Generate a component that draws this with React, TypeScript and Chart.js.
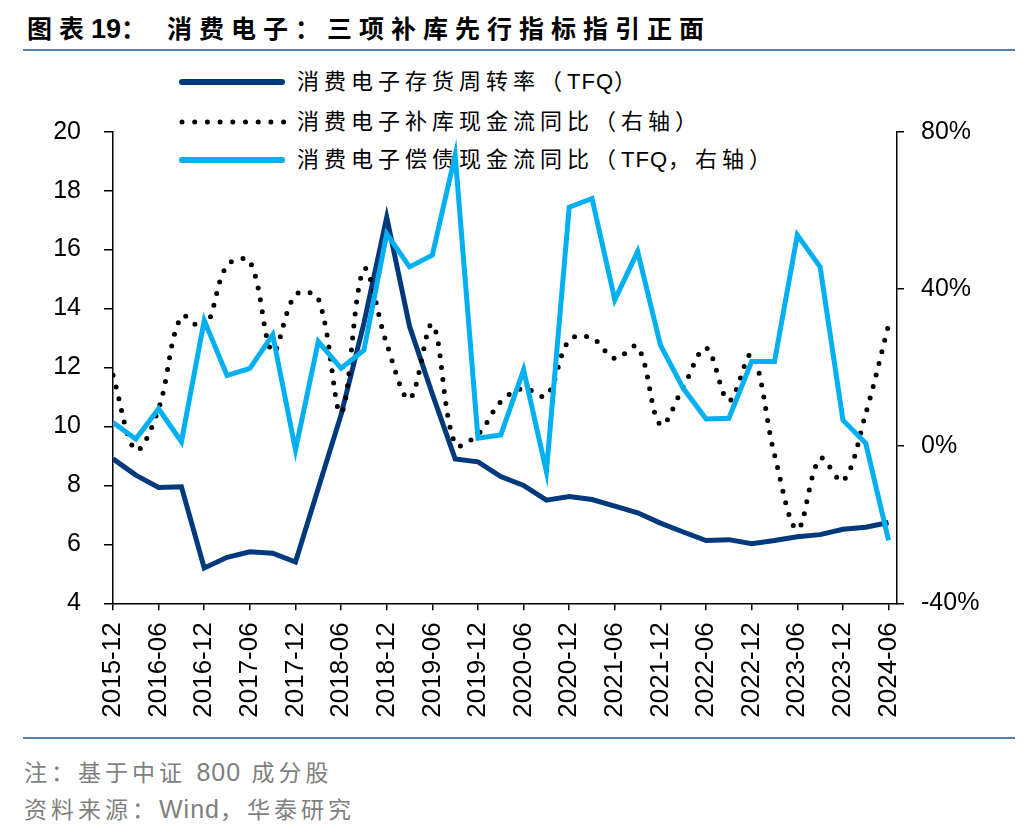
import { useEffect, useRef } from "react";
import { Chart, registerables } from "chart.js";

Chart.register(...registerables);

// Quarter-end dates (category of each point)
const quarters = [
  "2015-12", "2016-03", "2016-06", "2016-09", "2016-12", "2017-03", "2017-06", "2017-09",
  "2017-12", "2018-03", "2018-06", "2018-09", "2018-12", "2019-03", "2019-06", "2019-09",
  "2019-12", "2020-03", "2020-06", "2020-09", "2020-12", "2021-03", "2021-06", "2021-09",
  "2021-12", "2022-03", "2022-06", "2022-09", "2022-12", "2023-03", "2023-06", "2023-09",
  "2023-12", "2024-03", "2024-06",
];

// 消费电子存货周转率（TFQ）— left axis
const turnover = [
  8.9, 8.35, 7.93, 7.95, 5.2, 5.56, 5.75, 5.7,
  5.4, 7.9, 10.4, 13.5, 17.1, 13.4, 11.1, 8.9,
  8.8, 8.3, 8.0, 7.5, 7.62, 7.52, 7.3, 7.07,
  6.72, 6.42, 6.13, 6.16, 6.02, 6.13, 6.26, 6.33,
  6.51, 6.58, 6.74,
];

// 消费电子补库现金流同比（右轴），%
const restock = [
  18, -1, 9.5, 33, 30, 46, 47, 24,
  38.5, 37.5, 8.5, 45, 26, 12, 31, 0.5,
  3, 11.3, 14.7, 12.8, 27, 27.5, 22.3, 25.3,
  5.4, 15, 25, 11.5, 23.3, -2.2, -21.2, -3.1,
  -8.9, 8.3, 30.8,
];

// 消费电子偿债现金流同比（TFQ，右轴），%
const repay = [
  6, 1.8, 9.5, 1.1, 32, 18, 19.8, 28.3,
  -1, 26.6, 19.8, 24.4, 54, 45.6, 48.6, 74,
  2, 2.8, 19.4, -6.5, 60.8, 63, 37.2, 49.5,
  25.7, 14.7, 6.9, 7.1, 21.5, 21.5, 53.7, 45.6,
  6.6, 0.7, -24,
];

const leftTicks = { min: 4, max: 20, step: 2 };
const rightTicks = { min: -40, max: 80, step: 40 };

// legend labels split into [CJK part, Latin part, CJK part]
const legendItems = [
  { parts: ["消费电子存货周转率（", "TFQ", "）"], color: "#003A7D", dotted: false },
  { parts: ["消费电子补库现金流同比（右轴）", "", ""], color: "#000000", dotted: true },
  { parts: ["消费电子偿债现金流同比（", "TFQ", "，右轴）"], color: "#00B0F0", dotted: false },
];

const LATIN = '"Liberation Sans", Arial, sans-serif';
const MIXED = '"Liberation Sans", "Noto Sans CJK SC", sans-serif';

export default function App() {
  const ref = useRef<HTMLCanvasElement>(null);

  useEffect(() => {
    const toXY = (arr: number[]) => arr.map((v, i) => ({ x: i, y: v }));
    const chart = new Chart(ref.current as HTMLCanvasElement, {
      type: "line",
      data: {
        datasets: [
          {
            label: legendItems[2].parts.join(""),
            data: toXY(repay),
            yAxisID: "y1",
            borderColor: "#00B0F0",
            borderWidth: 5,
            pointRadius: 0,
            tension: 0,
            order: 0,
          },
          {
            label: legendItems[1].parts.join(""),
            data: toXY(restock),
            yAxisID: "y1",
            borderColor: "#000000",
            borderWidth: 5,
            borderDash: [0, 12],
            borderCapStyle: "round",
            pointRadius: 0,
            tension: 0.35,
            order: 1,
          },
          {
            label: legendItems[0].parts.join(""),
            data: toXY(turnover),
            yAxisID: "y",
            borderColor: "#003A7D",
            borderWidth: 5,
            pointRadius: 0,
            tension: 0,
            order: 2,
          },
        ],
      },
      options: {
        responsive: false,
        animation: false,
        devicePixelRatio: 1,
        layout: { padding: { top: 71.7, left: 0, right: 0, bottom: 0 } },
        plugins: { legend: { display: false }, tooltip: { enabled: false } },
        scales: {
          x: {
            type: "linear",
            min: 0,
            max: 34.37,
            grid: {
              display: true,
              drawOnChartArea: false,
              drawTicks: true,
              tickLength: 7,
              color: "#000",
              lineWidth: 1.5,
            },
            border: { display: true, color: "#000", width: 1.5 },
            ticks: {
              stepSize: 2,
              includeBounds: false,
              autoSkip: false,
              maxRotation: 90,
              minRotation: 90,
              padding: 12,
              color: "#000",
              font: { family: LATIN, size: 26 },
              callback: (v: any) => {
                const i = Math.round(Number(v));
                return i % 2 === 0 && quarters[i] ? quarters[i] : "";
              },
            },
            afterFit: (s: any) => {
              s.height = 136.7;
            },
          },
          y: {
            position: "left",
            min: leftTicks.min,
            max: leftTicks.max,
            grid: {
              display: true,
              drawOnChartArea: false,
              drawTicks: true,
              tickLength: 9,
              color: "#000",
              lineWidth: 1.5,
            },
            border: { display: true, color: "#000", width: 1.5 },
            ticks: {
              stepSize: leftTicks.step,
              padding: 23,
              color: "#000",
              font: { family: LATIN, size: 25 },
            },
            afterFit: (s: any) => {
              s.width = 105;
            },
          },
          y1: {
            position: "right",
            min: rightTicks.min,
            max: rightTicks.max,
            grid: {
              display: true,
              drawOnChartArea: false,
              drawTicks: true,
              tickLength: 7,
              color: "#000",
              lineWidth: 1.5,
            },
            border: { display: true, color: "#000", width: 1.5 },
            ticks: {
              stepSize: rightTicks.step,
              padding: 17,
              color: "#000",
              font: { family: LATIN, size: 25 },
              callback: (v: any) => `${v}%`,
            },
            afterFit: (s: any) => {
              s.width = 131;
            },
          },
        },
      },
    });
    return () => chart.destroy();
  }, []);

  const rowCenters = [74, 114, 152];

  return (
    <div style={{ position: "relative", width: 1020, height: 816, fontFamily: MIXED }}>
      <div
        style={{
          position: "absolute",
          left: 19,
          top: 6,
          fontSize: 25,
          lineHeight: "30px",
          fontWeight: 700,
          letterSpacing: 7,
          whiteSpace: "nowrap",
          color: "#000",
        }}
      >
        图表<span style={{ letterSpacing: 0, fontSize: 27 }}>19</span>： 消费电子：三项补库先行指标指引正面
      </div>
      <div style={{ position: "absolute", left: 15, top: 41, width: 992, height: 2, background: "#5B7DB1" }} />

      {legendItems.map((it, i) => (
        <div key={i} style={{ position: "absolute", left: 0, top: rowCenters[i] - 15, height: 30, zIndex: 0 }}>
          <svg width={290} height={30} style={{ position: "absolute", left: 0, top: 0 }}>
            {it.dotted ? (
              <line x1={174} y1={15} x2={276} y2={15} stroke={it.color} strokeWidth={5} strokeDasharray="0 12.7" strokeLinecap="round" />
            ) : (
              <line x1={174} y1={15} x2={274} y2={15} stroke={it.color} strokeWidth={6} strokeLinecap="round" />
            )}
          </svg>
          <div
            style={{
              position: "absolute",
              left: 289,
              top: 0,
              fontSize: 22,
              lineHeight: "30px",
              letterSpacing: 5,
              whiteSpace: "nowrap",
              color: "#000",
            }}
          >
            {it.parts[0]}
            {it.parts[1] ? <span style={{ letterSpacing: 1 }}>{it.parts[1]}</span> : null}
            {it.parts[2]}
          </div>
        </div>
      ))}

      <canvas
        ref={ref}
        width={1020}
        height={680}
        style={{ position: "absolute", left: 0, top: 52, width: 1020, height: 680, zIndex: 1 }}
      />

      <div style={{ position: "absolute", left: 15, top: 729, width: 992, height: 2, background: "#5B7DB1" }} />
      <div
        style={{
          position: "absolute",
          left: 16,
          top: 749,
          fontSize: 23,
          lineHeight: "30px",
          letterSpacing: 4,
          color: "#7F7F7F",
          whiteSpace: "nowrap",
        }}
      >
        注：基于中证 <span style={{ letterSpacing: 1, fontSize: 25 }}>800</span> 成分股
      </div>
      <div
        style={{
          position: "absolute",
          left: 16,
          top: 786,
          fontSize: 23,
          lineHeight: "30px",
          letterSpacing: 4,
          color: "#7F7F7F",
          whiteSpace: "nowrap",
        }}
      >
        资料来源：<span style={{ letterSpacing: 1, fontSize: 25 }}>Wind</span>，华泰研究
      </div>
    </div>
  );
}
